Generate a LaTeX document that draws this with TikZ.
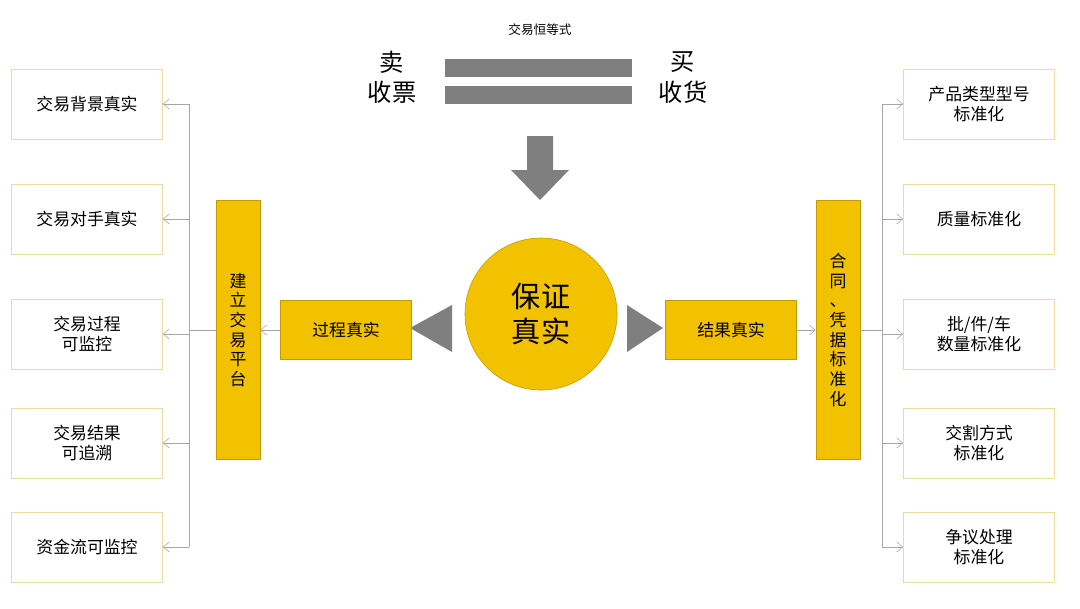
\documentclass[tikz,border=0pt]{standalone}
\usepackage{fontspec}
\setmainfont{Noto Sans CJK SC}
\usetikzlibrary{positioning}
\usetikzlibrary{arrows.meta}
\definecolor{gold}{HTML}{F2C200}
\definecolor{goldline}{HTML}{E9DC9E}
\definecolor{darkgray}{HTML}{7F7F7F}

\begin{document}
\begin{tikzpicture}[x=0.025cm, y=-0.025cm]
      \tikzstyle{item}=[draw=goldline, fill=white, minimum width=3.775cm, minimum height=1.75cm, align=center, font=\large]
      \tikzstyle{bar}=[draw=gold!80!black, fill=gold, minimum width=1.1cm, minimum height=6.475cm, align=center, font={\large\baselineskip=14pt}]
      \tikzstyle{label}=[draw=gold!80!black, fill=gold, minimum width=3.275cm, minimum height=1.475cm, font=\large]
      \tikzstyle{link}=[draw=gray!70, -{Straight Barb[length=1.5mm, width=2.5mm]}]

      \useasboundingbox (0,0) rectangle (1080,608);

      % top: equality
      \node[font=\small] (eq) at (540,30) {交易恒等式};
      \node[font=\LARGE] (sell) at (392,62) {卖};
      \node[font=\LARGE] (ticket) at (392,92) {收票};
      \node[font=\LARGE] (buy) at (683,62) {买};
      \node[font=\LARGE] (goods) at (683,92) {收货};
      \fill[darkgray] (445,59) rectangle (632,77);
      \fill[darkgray] (445,86) rectangle (632,104);
      \fill[darkgray] (527,136) -- (553,136) -- (553,170) -- (569,170) -- (540,200) -- (511,170) -- (527,170) -- cycle;

      % centre
      \node[circle, draw=gold!80!black, fill=gold, minimum size=3.8cm, align=center, font=\huge] (core) at (541,314) {保证\\真实};
      \fill[darkgray] (410,328) -- (452,305) -- (452,352) -- cycle;
      \fill[darkgray] (663,328) -- (627,305) -- (627,352) -- cycle;

      \node[label] (process) at (346,330) {过程真实};
      \node[label] (result) at (731,330) {结果真实};
      \node[bar] (platform) at (238,330) {建\\立\\交\\易\\平\\台};
      \node[bar] (contract) at (838,330) {合\\同\\、\\凭\\据\\标\\准\\化};

      \draw[link] (process.west) -- (platform.east);
      \draw[link] (result.east) -- (contract.west);

      \coordinate (lhub) at (189,330);
      \coordinate (rhub) at (882,330);
      \draw[gray!70] (platform.west) -- (lhub);
      \draw[gray!70] (contract.east) -- (rhub);

      % left items
      \node[item] (l1) at (87,104) {交易背景真实};
      \node[item] (l2) at (87,219) {交易对手真实};
      \node[item] (l3) at (87,334) {交易过程\\可监控};
      \node[item] (l4) at (87,443) {交易结果\\可追溯};
      \node[item] (l5) at (87,547) {资金流可监控};
      \foreach \n in {l1,l2,l3,l4,l5}
        \draw[link] (lhub |- \n.east) -- (\n.east);
      \draw[gray!70] (lhub |- l1.east) -- (lhub |- l5.east);

      % right items
      \node[item] (r1) at (979,104) {产品类型型号\\标准化};
      \node[item] (r2) at (979,219) {质量标准化};
      \node[item] (r3) at (979,334) {批/件/车\\数量标准化};
      \node[item] (r4) at (979,443) {交割方式\\标准化};
      \node[item] (r5) at (979,547) {争议处理\\标准化};
      \foreach \n in {r1,r2,r3,r4,r5}
        \draw[link] (rhub |- \n.west) -- (\n.west);
      \draw[gray!70] (rhub |- r1.west) -- (rhub |- r5.west);
\end{tikzpicture}
\end{document}
